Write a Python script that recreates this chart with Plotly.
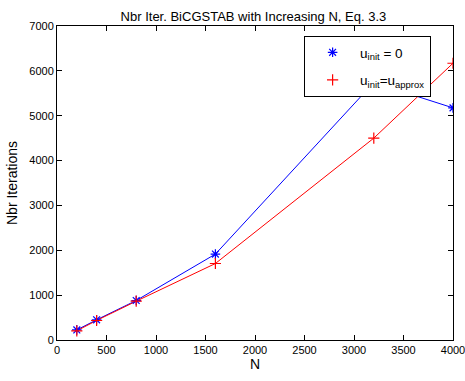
import plotly.graph_objects as go

N = [200, 400, 800, 1600, 3200, 4000]
iters_zero = [225, 450, 880, 1915, 5740, 5175]
iters_approx = [205, 435, 865, 1705, 4500, 6170]
x_ticks = [0, 500, 1000, 1500, 2000, 2500, 3000, 3500, 4000]
y_ticks = [0, 1000, 2000, 3000, 4000, 5000, 6000, 7000]

FONT = "Liberation Sans, Arial, sans-serif"
fig = go.Figure()
fig.add_trace(go.Scatter(x=N, y=iters_zero, mode="lines", line=dict(color="blue", width=1), showlegend=False))
fig.add_trace(go.Scatter(x=N, y=iters_approx, mode="lines", line=dict(color="red", width=1), showlegend=False))
fig.add_trace(go.Scatter(x=N, y=iters_zero, mode="markers", name="u<sub>init</sub> = 0", legendgroup="a",
                         marker=dict(symbol="asterisk-open", size=8, color="blue", line=dict(color="blue", width=1.2))))
fig.add_trace(go.Scatter(x=N, y=iters_approx, mode="markers", name="u<sub>init</sub>=u<sub>approx</sub>", legendgroup="b",
                         marker=dict(symbol="cross-thin-open", size=8, color="red", line=dict(color="red", width=1.2))))

axis_common = dict(showgrid=False, zeroline=False, showline=True, linecolor="black", linewidth=1,
                   mirror="allticks", ticks="inside", ticklen=5, tickcolor="black",
                   ticklabeloverflow="allow", automargin=False,
                   tickfont=dict(size=11, color="black", family=FONT))
fig.update_xaxes(range=[0, 4000], tickvals=x_ticks, title=dict(text="N", font=dict(size=14, color="black", family=FONT), standoff=2), **axis_common)
fig.update_yaxes(range=[0, 7000], tickvals=y_ticks, title=dict(text="Nbr Iterations", font=dict(size=14, color="black", family=FONT), standoff=8), **axis_common)

fig.update_layout(
    width=465, height=381,
    margin=dict(l=57, r=12, t=26, b=41, autoexpand=False),
    paper_bgcolor="white", plot_bgcolor="white",
    title=dict(text="Nbr Iter. BiCGSTAB with Increasing N, Eq. 3.3", x=0.545, xanchor="center", y=0.97, yanchor="top",
               font=dict(size=13, color="black", family=FONT)),
    legend=dict(x=0.624, y=0.968, xanchor="left", yanchor="top", bordercolor="black", borderwidth=1,
                bgcolor="white", font=dict(size=13.5, color="black", family=FONT), itemwidth=45, tracegroupgap=7),
    font=dict(family=FONT),
)
fig.write_html("out.html")
